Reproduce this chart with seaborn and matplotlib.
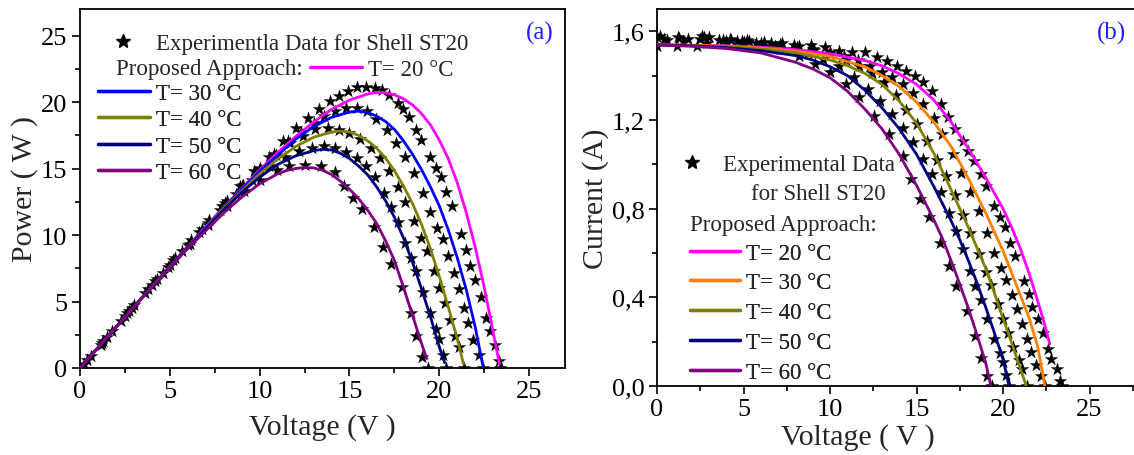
import pandas as pd
import matplotlib
matplotlib.use("Agg")
import matplotlib.pyplot as plt
from matplotlib.lines import Line2D
from matplotlib.ticker import MultipleLocator, FuncFormatter
import seaborn as sns

# Temperatures (legend labels)
labels = ["T= 20 °C", "T= 30 °C", "T= 40 °C", "T= 50 °C", "T= 60 °C"]
colors_a = ["#FF00FF", "#0000FF", "#808000", "#000080", "#800080"]
colors_b = ["#FF00FF", "#FF8000", "#808000", "#000080", "#800080"]

# ---- model curves, I-V (panel b)
mv_20 = [0, 2, 4, 6, 8, 10, 12, 13, 14, 15, 16, 17, 18, 19, 20, 20.5, 21, 21.5, 22, 22.4, 22.7]
mi_20 = [1.538, 1.537, 1.534, 1.528, 1.517, 1.498, 1.468, 1.444, 1.408, 1.36, 1.29, 1.19, 1.07, 0.94, 0.80,
         0.715, 0.62, 0.51, 0.385, 0.28, 0.19]
mv_30 = [0, 2, 4, 6, 8, 10, 12, 13, 14, 15, 16, 17, 18, 19, 20, 20.5, 21, 21.5, 22, 22.42]
mi_30 = [1.538, 1.536, 1.532, 1.524, 1.510, 1.486, 1.44, 1.40, 1.35, 1.28, 1.19, 1.08, 0.935, 0.78, 0.61,
         0.51, 0.41, 0.31, 0.18, 0.0]
mv_40 = [0, 2, 4, 6, 8, 10, 11, 12, 13, 14, 15, 16, 17, 18, 19, 19.5, 20, 20.5, 21, 21.35]
mi_40 = [1.538, 1.535, 1.530, 1.520, 1.503, 1.47, 1.445, 1.41, 1.36, 1.285, 1.185, 1.05, 0.885, 0.715, 0.53,
         0.42, 0.305, 0.195, 0.08, 0.0]
mv_50 = [0, 2, 4, 6, 8, 9, 10, 11, 12, 13, 14, 15, 16, 17, 17.5, 18, 18.5, 19, 19.5, 20, 20.35]
mi_50 = [1.538, 1.534, 1.526, 1.512, 1.49, 1.47, 1.44, 1.40, 1.335, 1.255, 1.16, 1.045, 0.90, 0.745, 0.66,
         0.565, 0.465, 0.355, 0.24, 0.12, 0.0]
mv_60 = [0, 2, 4, 6, 8, 9, 10, 11, 12, 13, 14, 15, 16, 16.5, 17, 17.5, 18, 18.5, 19, 19.3]
mi_60 = [1.538, 1.532, 1.522, 1.502, 1.46, 1.43, 1.39, 1.33, 1.25, 1.16, 1.045, 0.905, 0.75, 0.665, 0.565,
         0.46, 0.35, 0.23, 0.105, 0.0]

# ---- model curves, P-V (panel a)
pv_20 = [0, 2, 4, 6, 8, 10, 11, 12, 13, 14, 15, 16, 16.5, 17, 17.5, 18, 18.5, 19, 19.5, 20, 20.5, 21, 21.5,
         22, 22.5, 23, 23.35]
pp_20 = [0, 3.07, 6.13, 9.15, 12.1, 14.9, 16.2, 17.4, 18.5, 19.45, 20.15, 20.6, 20.72, 20.7, 20.55, 20.25,
         19.8, 19.15, 18.3, 17.15, 15.75, 13.95, 11.7, 9.1, 6.1, 2.7, 0.3]
pv_30 = [0, 2, 4, 6, 8, 10, 12, 13, 14, 15, 15.5, 16, 16.5, 17, 17.5, 18, 18.5, 19, 19.5, 20, 20.5, 21, 21.5,
         22, 22.45]
pp_30 = [0, 3.07, 6.13, 9.13, 12.05, 14.8, 17.2, 18.15, 18.85, 19.25, 19.32, 19.22, 18.95, 18.55, 17.95,
         17.1, 16.1, 14.95, 13.65, 12.2, 10.4, 8.3, 5.9, 3.1, 0.0]
pv_40 = [0, 2, 4, 6, 8, 10, 11, 12, 13, 14, 14.5, 15, 15.5, 16, 16.5, 17, 17.5, 18, 18.5, 19, 19.5, 20, 20.5,
         21, 21.35]
pp_40 = [0, 3.07, 6.12, 9.1, 12.0, 14.6, 15.7, 16.65, 17.35, 17.75, 17.82, 17.75, 17.5, 17.1, 16.55, 15.8,
         14.85, 13.7, 12.4, 10.85, 9.0, 6.9, 4.6, 2.2, 0.3]
pv_50 = [0, 2, 4, 6, 8, 9, 10, 11, 12, 13, 13.5, 14, 14.5, 15, 15.5, 16, 16.5, 17, 17.5, 18, 18.5, 19, 19.5,
         20, 20.3]
pp_50 = [0, 3.07, 6.1, 9.07, 11.9, 13.2, 14.35, 15.3, 15.95, 16.35, 16.45, 16.4, 16.15, 15.75, 15.2, 14.55,
         13.65, 12.6, 11.35, 9.8, 8.0, 6.0, 3.9, 1.6, 0.4]
pv_60 = [0, 2, 4, 6, 8, 9, 10, 11, 11.5, 12, 12.5, 13, 13.5, 14, 14.5, 15, 15.5, 16, 16.5, 17, 17.5, 18, 18.5,
         19, 19.3]
pp_60 = [0, 3.06, 6.08, 9.0, 11.65, 12.85, 13.85, 14.6, 14.85, 15.0, 15.08, 15.05, 14.88, 14.55, 14.05,
         13.45, 12.75, 11.9, 10.9, 9.6, 8.1, 6.1, 4.0, 1.9, 0.7]

# ---- experimental data (voltage, current, power)
ev_20 = [0, 1.2, 2.6, 4.2, 5.2, 6.6, 7.9, 8.9, 9.7, 10.5, 11.3, 12.0, 12.7, 13.3, 13.9, 14.4, 14.9, 15.4,
         15.9, 16.4, 16.8, 17.2, 17.7, 18.0, 18.3, 18.7, 19.0, 19.5, 19.8, 20.1, 20.4, 20.7, 21.2, 21.5, 21.7,
         22.0, 22.3, 22.6, 22.8, 23.1, 23.3, 23.4]
ei_20 = [1.573, 1.573, 1.577, 1.565, 1.562, 1.547, 1.538, 1.538, 1.528, 1.512, 1.508, 1.505, 1.483, 1.467,
         1.445, 1.422, 1.40, 1.37, 1.33, 1.27, 1.212, 1.159, 1.106, 1.061, 1.016, 0.956, 0.903, 0.813, 0.76,
         0.715, 0.647, 0.587, 0.474, 0.414, 0.354, 0.301, 0.241, 0.166, 0.121, 0.075, 0.023, 0.0]
ep_20 = [0, 1.89, 4.10, 6.57, 8.12, 10.21, 12.15, 13.69, 14.82, 15.88, 17.04, 18.06, 18.83, 19.51, 20.09,
         20.48, 20.86, 21.10, 21.15, 21.05, 20.9, 20.5, 19.9, 19.45, 18.9, 17.9, 17.16, 15.85, 15.05, 14.37,
         13.2, 12.15, 10.05, 8.9, 7.68, 6.62, 5.37, 3.75, 2.76, 1.73, 0.54, 0.0]
ev_30 = [0.0, 1.15, 2.3, 3.0, 4.3, 5.3, 6.2, 7.2, 8.2, 9.0, 10.0, 10.8, 11.6, 12.3, 13.0, 13.6, 14.2, 14.8,
         15.4, 16.0, 16.5, 17.1, 17.6, 18.1, 18.6, 19.1, 19.5, 19.9, 20.2, 20.5, 20.8, 21.1, 21.4, 21.6, 21.9,
         22.2, 22.45]
ei_30 = [1.532, 1.532, 1.535, 1.575, 1.56, 1.555, 1.55, 1.545, 1.535, 1.52, 1.505, 1.49, 1.47, 1.445, 1.415,
         1.395, 1.36, 1.32, 1.27, 1.21, 1.135, 1.045, 0.96, 0.875, 0.79, 0.69, 0.60, 0.53, 0.48, 0.41, 0.345,
         0.28, 0.21, 0.155, 0.095, 0.045, 0.0]
ep_30 = [0, 1.76, 3.53, 4.73, 6.71, 8.24, 9.61, 11.12, 12.59, 13.68, 15.05, 16.09, 17.05, 17.77, 18.4, 18.97,
         19.31, 19.54, 19.56, 19.36, 18.73, 17.87, 16.9, 15.84, 14.69, 13.18, 11.7, 10.55, 9.7, 8.41, 7.18,
         5.91, 4.49, 3.35, 2.08, 1.0, 0.0]
ev_40 = [0.2, 1.3, 2.5, 3.8, 4.9, 6.0, 7.1, 8.1, 9.1, 10.0, 10.9, 11.7, 12.4, 13.1, 13.8, 14.4, 15.0, 15.6,
         16.2, 16.7, 17.2, 17.7, 18.1, 18.6, 19.0, 19.3, 19.7, 20.0, 20.3, 20.6, 20.9, 21.1, 21.4]
ei_40 = [1.58, 1.57, 1.565, 1.56, 1.555, 1.545, 1.54, 1.53, 1.515, 1.495, 1.47, 1.445, 1.41, 1.37, 1.31,
         1.245, 1.18, 1.105, 1.02, 0.945, 0.86, 0.77, 0.69, 0.595, 0.515, 0.455, 0.37, 0.30, 0.24, 0.175,
         0.115, 0.075, 0.0]
ep_40 = [0.32, 2.04, 3.91, 5.93, 7.62, 9.27, 10.93, 12.39, 13.79, 14.95, 16.02, 16.91, 17.48, 17.95, 18.08,
         17.93, 17.7, 17.24, 16.52, 15.78, 14.79, 13.63, 12.49, 11.07, 9.79, 8.78, 7.29, 6.0, 4.87, 3.61, 2.4,
         1.58, 0.0]
ev_50 = [0.4, 1.5, 2.7, 3.6, 4.6, 5.7, 6.8, 7.8, 8.7, 9.6, 10.5, 11.4, 12.2, 12.9, 13.6, 14.2, 14.8, 15.4,
         15.9, 16.4, 16.9, 17.3, 17.7, 18.1, 18.4, 18.7, 19.1, 19.5, 19.8, 20.0, 20.2, 20.35]
ei_50 = [1.565, 1.555, 1.575, 1.56, 1.555, 1.545, 1.535, 1.52, 1.50, 1.475, 1.445, 1.395, 1.34, 1.285,
         1.225, 1.165, 1.10, 1.025, 0.955, 0.875, 0.78, 0.70, 0.62, 0.52, 0.45, 0.39, 0.30, 0.21, 0.15, 0.11,
         0.05, 0.0]
ep_50 = [0.63, 2.33, 4.25, 5.62, 7.15, 8.81, 10.44, 11.86, 13.05, 14.16, 15.17, 15.9, 16.35, 16.58, 16.66,
         16.54, 16.28, 15.79, 15.18, 14.35, 13.18, 12.11, 10.97, 9.41, 8.28, 7.29, 5.73, 4.1, 2.97, 2.2, 1.01,
         0.0]
ev_60 = [0.6, 1.8, 2.9, 4.0, 5.0, 6.1, 7.1, 8.2, 9.15, 10.0, 10.95, 11.65, 12.55, 13.4, 14.2, 14.7, 15.2,
         15.7, 16.35, 16.85, 17.3, 17.9, 18.4, 18.7, 19.05, 19.35]
ei_60 = [1.56, 1.565, 1.545, 1.555, 1.55, 1.535, 1.52, 1.49, 1.452, 1.415, 1.362, 1.302, 1.219, 1.135, 1.038,
         0.933, 0.843, 0.76, 0.647, 0.542, 0.451, 0.339, 0.226, 0.128, 0.045, 0.0]
ep_60 = [0.94, 2.82, 4.48, 6.22, 7.75, 9.36, 10.79, 12.22, 13.29, 14.15, 14.91, 15.17, 15.3, 15.21, 14.74,
         13.72, 12.81, 11.93, 10.58, 9.13, 7.8, 6.07, 4.16, 2.39, 0.86, 0.0]


def long_frame(xs, ys, xname, yname):
    parts = [pd.DataFrame({xname: x, yname: y, "T": lab}) for lab, x, y in zip(labels, xs, ys)]
    return pd.concat(parts, ignore_index=True)


mod_b = long_frame([mv_20, mv_30, mv_40, mv_50, mv_60], [mi_20, mi_30, mi_40, mi_50, mi_60], "V", "I")
mod_a = long_frame([pv_20, pv_30, pv_40, pv_50, pv_60], [pp_20, pp_30, pp_40, pp_50, pp_60], "V", "P")
exp_b = long_frame([ev_20, ev_30, ev_40, ev_50, ev_60], [ei_20, ei_30, ei_40, ei_50, ei_60], "V", "I")
exp_a = long_frame([ev_20, ev_30, ev_40, ev_50, ev_60], [ep_20, ep_30, ep_40, ep_50, ep_60], "V", "P")

sns.set_theme(style="ticks", rc={"axes.edgecolor": "black", "xtick.color": "black",
                                 "ytick.color": "black", "axes.linewidth": 1.3})
plt.rcParams["font.family"] = ["Liberation Serif", "DejaVu Sans"]

W, H = 1134, 456
fig = plt.figure(figsize=(W / 100, H / 100), dpi=100)
ax1 = fig.add_axes([80 / W, 87 / H, 485 / W, 359 / H])
ax2 = fig.add_axes([657 / W, 69 / H, 484.4 / W, 377 / H])


def fx(px):
    return px / W


def fy(py):
    return 1 - py / H


# ---- panel (a): power
sns.scatterplot(data=exp_a, x="V", y="P", marker="*", color="black", s=105, linewidth=0,
                ax=ax1, legend=False, zorder=2)
sns.lineplot(data=mod_a, x="V", y="P", hue="T", hue_order=labels, palette=colors_a, sort=False,
             estimator=None, lw=2.0, ax=ax1, legend=False, zorder=3)
ax1.set_xlim(0, 27)
ax1.set_ylim(0, 27)
ax1.xaxis.set_major_locator(MultipleLocator(5))
ax1.xaxis.set_minor_locator(MultipleLocator(2.5))
ax1.yaxis.set_major_locator(MultipleLocator(5))
ax1.yaxis.set_minor_locator(MultipleLocator(2.5))
ax1.set_xlabel("Voltage (V )", fontsize=21.5, va="center")
ax1.set_ylabel("Power ( W )", fontsize=21.5, va="center")
ax1.xaxis.set_label_coords(0.5, -0.162)
ax1.yaxis.set_label_coords(-0.115, 0.5)
ax1.text(fx(540), fy(33), "(a)", transform=fig.transFigure, color="#1f1fff", fontsize=18,
         ha="center", va="center")

# ---- panel (b): current
sns.scatterplot(data=exp_b, x="V", y="I", marker="*", color="black", s=105, linewidth=0,
                ax=ax2, legend=False, zorder=2)
sns.lineplot(data=mod_b, x="V", y="I", hue="T", hue_order=labels, palette=colors_b, sort=False,
             estimator=None, lw=2.0, ax=ax2, legend=False, zorder=3)
ax2.set_xlim(0, 28)
ax2.set_ylim(0, 1.70)
ax2.xaxis.set_major_locator(MultipleLocator(5))
ax2.xaxis.set_minor_locator(MultipleLocator(2.5))
ax2.yaxis.set_major_locator(MultipleLocator(0.4))
ax2.yaxis.set_minor_locator(MultipleLocator(0.2))
ax2.yaxis.set_major_formatter(FuncFormatter(lambda v, p: f"{v:.1f}".replace(".", ",")))
ax2.spines["right"].set_visible(False)
ax2.set_xlabel("Voltage ( V )", fontsize=21.5, va="center")
ax2.set_ylabel("Current (A)", fontsize=21.5, va="center")
ax2.xaxis.set_label_coords(0.415, -0.133)
ax2.yaxis.set_label_coords(-0.126, 0.5)
ax2.text(fx(1111), fy(33), "(b)", transform=fig.transFigure, color="#1f1fff", fontsize=18,
         ha="center", va="center")

for ax in (ax1, ax2):
    ax.tick_params(which="major", direction="out", length=6, width=1.2, labelsize=19, pad=3)
    ax.tick_params(which="minor", direction="out", length=3.5, width=1.2)

# ---- legends
fs = 16.5
star = Line2D([], [], ls="none", marker="*", color="black", markersize=10)
leg_kw = dict(bbox_transform=fig.transFigure, frameon=False, borderpad=0, borderaxespad=0,
              fontsize=fs, loc="center left")


def line_handle(c):
    return Line2D([], [], color=c, lw=2.4)


# panel (a)
lg = ax1.legend([star], ["Experimentla Data for Shell ST20"], bbox_to_anchor=(fx(111.5), fy(44)),
                handlelength=1.0, handletextpad=0.94, **leg_kw)
ax1.add_artist(lg)
fig.text(fx(116), fy(70), "Proposed Approach:", fontsize=fs, ha="left", va="center")
lg = ax1.legend([line_handle(colors_a[0])], [labels[0]], bbox_to_anchor=(fx(310), fy(70)),
                handlelength=2.27, handletextpad=0.26, **leg_kw)
ax1.add_artist(lg)
lg = ax1.legend([line_handle(c) for c in colors_a[1:]], labels[1:], bbox_to_anchor=(fx(98), fy(134)),
                handlelength=2.27, handletextpad=0.26, labelspacing=0.24, **leg_kw)
ax1.add_artist(lg)

# panel (b)
lg = ax2.legend([star], ["Experimental Data"], bbox_to_anchor=(fx(680.5), fy(165)),
                handlelength=1.0, handletextpad=0.86, **leg_kw)
ax2.add_artist(lg)
fig.text(fx(818), fy(195), "for Shell ST20", fontsize=fs, ha="center", va="center")
fig.text(fx(690), fy(225), "Proposed Approach:", fontsize=fs, ha="left", va="center")
lg = ax2.legend([line_handle(c) for c in colors_b], labels, bbox_to_anchor=(fx(690), fy(313.5)),
                handlelength=2.18, handletextpad=0.26, labelspacing=0.38, **leg_kw)
ax2.add_artist(lg)

fig.savefig("out.png", dpi=100)
